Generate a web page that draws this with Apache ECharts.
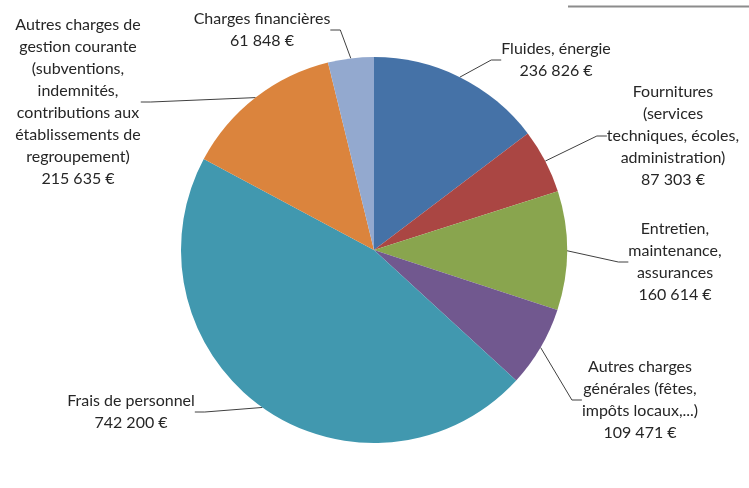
<!DOCTYPE html>
<html>
<head>
<meta charset="utf-8">
<script src="https://cdn.jsdelivr.net/npm/echarts@6/dist/echarts.min.js"></script>
<style>
  html, body { margin: 0; padding: 0; background: #fff; }
  #chart { width: 749px; height: 488px; }
</style>
</head>
<body>
<div id="chart"></div>
<script>
const categories = [
    'Fluides, énergie',
    'Fournitures\n(services\ntechniques, écoles,\nadministration)',
    'Entretien,\nmaintenance,\nassurances',
    'Autres charges\ngénérales (fêtes,\nimpôts locaux,...)',
    'Frais de personnel',
    'Autres charges de\ngestion courante\n(subventions,\nindemnités,\ncontributions aux\nétablissements de\nregroupement)',
    'Charges financières'
];
const values = [236826, 87303, 160614, 109471, 742200, 215635, 61848];
const colors = ['#4572A7', '#AA4643', '#89A54E', '#71588F', '#4198AF', '#DB843D', '#93A9CF'];

// label anchor (centre of text block) for each slice
const labelPos = [
    [556, 60], [673, 136], [675, 262], [640, 400], [131, 412], [78, 102], [262, 30]
];

const fmt = v => String(v).replace(/\B(?=(\d{3})+(?!\d))/g, ' ') + ' €';

const chart = echarts.init(document.getElementById('chart'));

const option = {
    animation: false,
    color: colors,
    graphic: [
        {
            type: 'line',
            shape: { x1: 568, y1: 6.5, x2: 749, y2: 6.5 },
            style: { stroke: '#8c8c8c', lineWidth: 2 }
        }
    ],
    series: [
        {
            type: 'pie',
            center: [374, 250],
            radius: [0, 193],
            startAngle: 90,
            clockwise: true,
            data: categories.map((c, i) => ({ name: c, value: values[i] })),
            label: {
                show: true,
                formatter: p => p.name + '\n' + fmt(p.value),
                fontFamily: 'Lato',
                fontSize: 16,
                lineHeight: 22,
                color: '#262626',
                align: 'center'
            },
            labelLine: {
                show: true,
                length: 10,
                length2: 10,
                smooth: false,
                lineStyle: { color: '#404040', width: 1 }
            },
            labelLayout: params => ({
                x: labelPos[params.dataIndex][0],
                y: labelPos[params.dataIndex][1],
                align: 'center',
                verticalAlign: 'middle'
            }),
            itemStyle: { borderColor: '#fff', borderWidth: 0 },
            emphasis: { disabled: true }
        }
    ]
};

chart.setOption(option);
</script>
</body>
</html>
